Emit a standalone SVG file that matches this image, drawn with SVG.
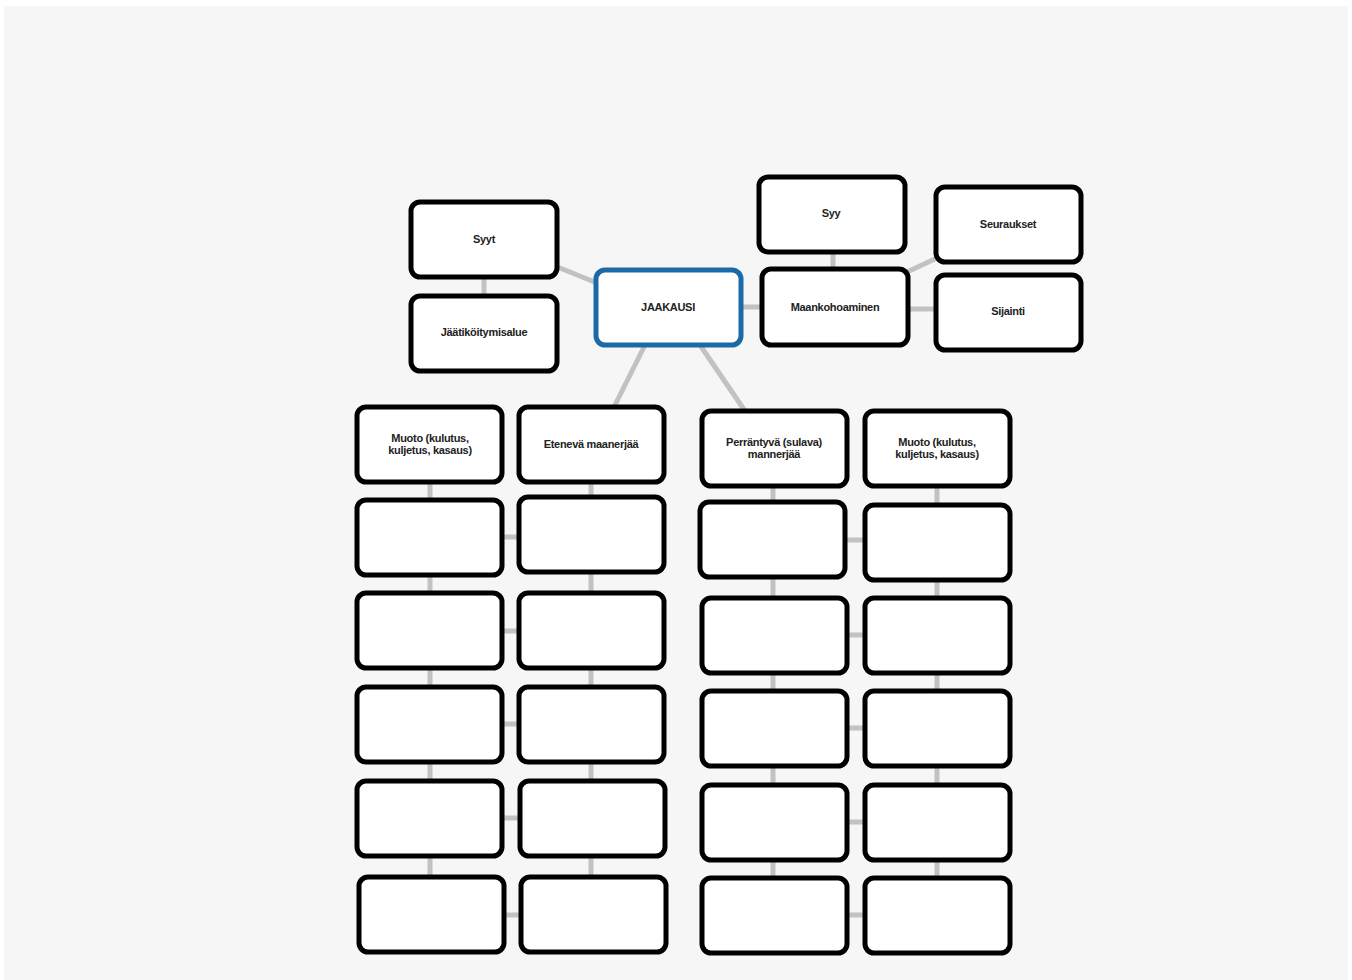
<svg xmlns="http://www.w3.org/2000/svg" width="1352" height="980" viewBox="0 0 1352 980">
<style>
.n{fill:#fff;stroke:#000;stroke-width:5}
.c{fill:#fff;stroke:#1a6aa8;stroke-width:5}
.l{stroke:#c2c2c2;stroke-width:5;fill:none}
.t{font-family:"Liberation Sans",Arial,sans-serif;font-weight:bold;font-size:11px;fill:#222;text-anchor:middle;letter-spacing:-0.3px}
</style>
<rect width="1352" height="980" fill="#fff"/>
<rect x="4" y="6" width="1344" height="974" fill="#f6f6f6"/>
<g id="connectors">
<line class="l" x1="555" y1="266" x2="597" y2="283"/>
<line class="l" x1="484" y1="277" x2="484" y2="296"/>
<line class="l" x1="740" y1="307" x2="764" y2="307"/>
<line class="l" x1="833" y1="251" x2="833" y2="270"/>
<line class="l" x1="907" y1="272" x2="937" y2="258"/>
<line class="l" x1="907" y1="309" x2="937" y2="309"/>
<line class="l" x1="645" y1="345" x2="614" y2="407"/>
<line class="l" x1="700" y1="345" x2="745" y2="411"/>
<line class="l" x1="430" y1="482" x2="430" y2="878"/>
<line class="l" x1="591" y1="482" x2="591" y2="878"/>
<line class="l" x1="773" y1="486" x2="773" y2="879"/>
<line class="l" x1="937" y1="486" x2="937" y2="879"/>
<line class="l" x1="500" y1="537" x2="520" y2="537"/>
<line class="l" x1="500" y1="631" x2="520" y2="631"/>
<line class="l" x1="500" y1="724" x2="520" y2="724"/>
<line class="l" x1="500" y1="818" x2="520" y2="818"/>
<line class="l" x1="502" y1="915" x2="522" y2="915"/>
<line class="l" x1="845" y1="540" x2="866" y2="540"/>
<line class="l" x1="845" y1="635" x2="866" y2="635"/>
<line class="l" x1="845" y1="728" x2="866" y2="728"/>
<line class="l" x1="845" y1="822" x2="866" y2="822"/>
<line class="l" x1="845" y1="915" x2="866" y2="915"/>
</g>
<g id="syyt"><rect class="n" x="411" y="202" width="146" height="75" rx="9"/><text class="t" x="484" y="243">Syyt</text></g>
<g id="jaatikoitymisalue"><rect class="n" x="411" y="296" width="146" height="75" rx="9"/><text class="t" x="484" y="336">Jäätiköitymisalue</text></g>
<g id="jaakausi"><rect class="c" x="596" y="270" width="145" height="75" rx="9"/><text class="t" x="668" y="311">JAAKAUSI</text></g>
<g id="syy"><rect class="n" x="759" y="177" width="146" height="75" rx="9"/><text class="t" x="831" y="217">Syy</text></g>
<g id="maankohoaminen"><rect class="n" x="762" y="269" width="146" height="76" rx="9"/><text class="t" x="835" y="311">Maankohoaminen</text></g>
<g id="seuraukset"><rect class="n" x="936" y="187" width="145" height="75" rx="9"/><text class="t" x="1008" y="228">Seuraukset</text></g>
<g id="sijainti"><rect class="n" x="936" y="275" width="145" height="75" rx="9"/><text class="t" x="1008" y="315">Sijainti</text></g>
<g id="muoto1"><rect class="n" x="357" y="407" width="145" height="75" rx="9"/><text class="t" x="430" y="442">Muoto (kulutus,</text><text class="t" x="430" y="454">kuljetus, kasaus)</text></g>
<g id="etenava"><rect class="n" x="519" y="407" width="145" height="75" rx="9"/><text class="t" x="591" y="448">Etenevä maanerjää</text></g>
<g id="perrantyva"><rect class="n" x="702" y="411" width="145" height="75" rx="9"/><text class="t" x="774" y="446">Perräntyvä (sulava)</text><text class="t" x="774" y="458">mannerjää</text></g>
<g id="muoto2"><rect class="n" x="865" y="411" width="145" height="75" rx="9"/><text class="t" x="937" y="446">Muoto (kulutus,</text><text class="t" x="937" y="458">kuljetus, kasaus)</text></g>
<g id="c1r2"><rect class="n" x="357" y="500" width="145" height="75" rx="9"/></g>
<g id="c1r3"><rect class="n" x="357" y="593" width="145" height="75" rx="9"/></g>
<g id="c1r4"><rect class="n" x="357" y="687" width="145" height="75" rx="9"/></g>
<g id="c1r5"><rect class="n" x="357" y="781" width="145" height="75" rx="9"/></g>
<g id="c1r6"><rect class="n" x="359" y="877" width="145" height="75" rx="9"/></g>
<g id="c2r2"><rect class="n" x="519" y="497" width="145" height="75" rx="9"/></g>
<g id="c2r3"><rect class="n" x="519" y="593" width="145" height="75" rx="9"/></g>
<g id="c2r4"><rect class="n" x="519" y="687" width="145" height="75" rx="9"/></g>
<g id="c2r5"><rect class="n" x="520" y="781" width="145" height="75" rx="9"/></g>
<g id="c2r6"><rect class="n" x="521" y="877" width="145" height="75" rx="9"/></g>
<g id="c3r2"><rect class="n" x="700" y="502" width="145" height="75" rx="9"/></g>
<g id="c3r3"><rect class="n" x="702" y="598" width="145" height="75" rx="9"/></g>
<g id="c3r4"><rect class="n" x="702" y="691" width="145" height="75" rx="9"/></g>
<g id="c3r5"><rect class="n" x="702" y="785" width="145" height="75" rx="9"/></g>
<g id="c3r6"><rect class="n" x="702" y="878" width="145" height="75" rx="9"/></g>
<g id="c4r2"><rect class="n" x="865" y="505" width="145" height="75" rx="9"/></g>
<g id="c4r3"><rect class="n" x="865" y="598" width="145" height="75" rx="9"/></g>
<g id="c4r4"><rect class="n" x="865" y="691" width="145" height="75" rx="9"/></g>
<g id="c4r5"><rect class="n" x="865" y="785" width="145" height="75" rx="9"/></g>
<g id="c4r6"><rect class="n" x="865" y="878" width="145" height="75" rx="9"/></g>
</svg>
